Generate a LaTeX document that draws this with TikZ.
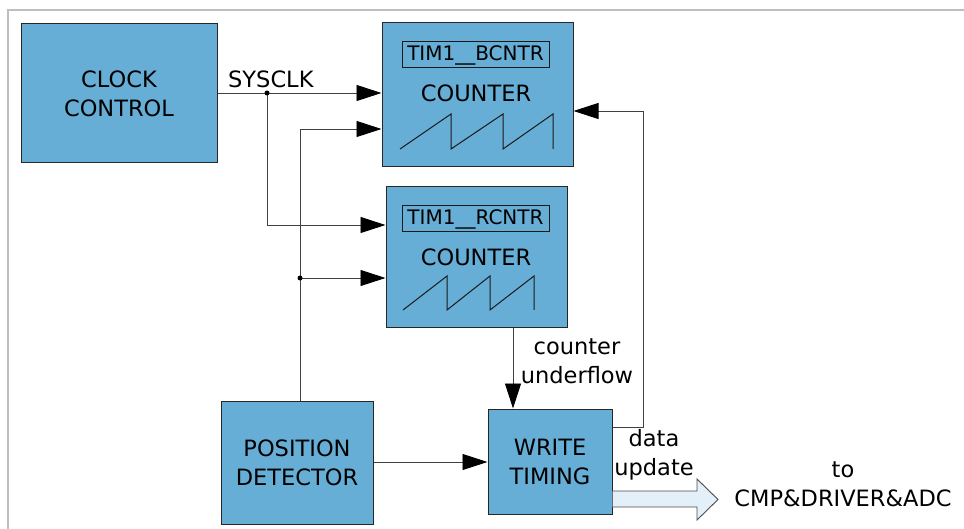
\documentclass[tikz,border=0pt]{standalone}
\usepackage{fontspec}
\setmainfont{DejaVu Sans}
\usetikzlibrary{arrows.meta}
\definecolor{blkfill}{RGB}{103,174,214}
\definecolor{arrfill}{RGB}{227,240,250}
\definecolor{framegray}{RGB}{190,190,190}
\tikzset{
  blk/.style={draw=black!85, line width=1pt, fill=blkfill, align=center, inner sep=0pt,
    font=\fontsize{22.5}{29}\selectfont},
  lbl/.style={draw=black!90, line width=1pt, minimum width=147pt, minimum height=26pt, inner sep=0pt,
    font=\fontsize{20}{24}\selectfont},
  txt/.style={align=center, inner sep=0pt, font=\fontsize{22.5}{29}\selectfont},
  conn/.style={draw=black!75, line width=0.9pt},
  arr/.style={conn, -{Triangle[length=25pt,width=16pt,color=black]}},
  saw/.style={draw=black!90, line width=1pt},
  jdot/.style={circle, fill=black, inner sep=0pt, minimum size=5pt}
}
\begin{document}
\begin{tikzpicture}[x=1pt,y=-1pt]
\useasboundingbox (0,0) rectangle (964,529);
% frame
\draw[framegray, line width=2pt] (964,10) -- (8,10) -- (8,529);
% blocks
\node[blk, minimum width=196pt, minimum height=139pt] (clk) at (119,93.5) {CLOCK\\CONTROL};
\node[blk, minimum width=191pt, minimum height=144pt] (bc) at (477.5,95) {};
\node[blk, minimum width=181pt, minimum height=141pt] (rc) at (476.5,257.5) {};
\node[blk, minimum width=124pt, minimum height=105pt] (wt) at (550,461.5) {WRITE\\TIMING};
\node[blk, minimum width=152pt, minimum height=123pt] (pd) at (297,462.5) {POSITION\\DETECTOR};
% counter contents
\node[lbl] (bcl) at (475.5,55) {TIM1\_\_BCNTR};
\node[txt] (bct) at (476,93) {COUNTER};
\draw[saw] (400,149) -- (451,114) -- (451,149) -- (503,114) -- (503,149) -- (553,114) -- (553,149);
\node[lbl] (rcl) at (475.5,219) {TIM1\_\_RCNTR};
\node[txt] (rct) at (476,257) {COUNTER};
\draw[saw] (403,310) -- (447,276) -- (447,310) -- (490,276) -- (490,310) -- (534,276) -- (534,310);
% labels
\node[txt, anchor=base west] (sys) at (228,88) {SYSCLK};
\node[txt] (cu) at (577,361) {counter\\underflow};
\node[txt] (du) at (654,455) {data\\update};
\node[txt] (to) at (843,484) {to\\CMP\&DRIVER\&ADC};
% junctions
\coordinate (j1) at (267,93);
\coordinate (j2) at (300,278);
\coordinate (c1) at (300,129);
\coordinate (c2) at (267,225);
\coordinate (c3) at (643,427);
\coordinate (c4) at (643,111);
% connectors
\draw[arr] (clk.east |- j1) -- (bc.west |- j1);
\draw[arr] (j1) -- (c2) -- (rc.west |- c2);
\draw[arr] (pd.north -| c1) -- (c1) -- (bc.west |- c1);
\draw[arr] (j2) -- (rc.west |- j2);
\draw[arr] (rc.south -| 513,0) -- (wt.north -| 513,0);
\draw[arr] (pd.east |- 0,462) -- (wt.west |- 0,462);
\draw[arr] (wt.east |- c3) -- (c3) -- (c4) -- (bc.east |- c4);
\node[jdot] at (j1) {};
\node[jdot] at (j2) {};
% hollow output arrow
\draw[draw=black!70, line width=0.9pt, fill=arrfill]
  (wt.east |- 0,491) -- (697,491) -- (697,479) -- (718,499.5) -- (697,520) -- (697,507) -- (wt.east |- 0,507);
\end{tikzpicture}
\end{document}
